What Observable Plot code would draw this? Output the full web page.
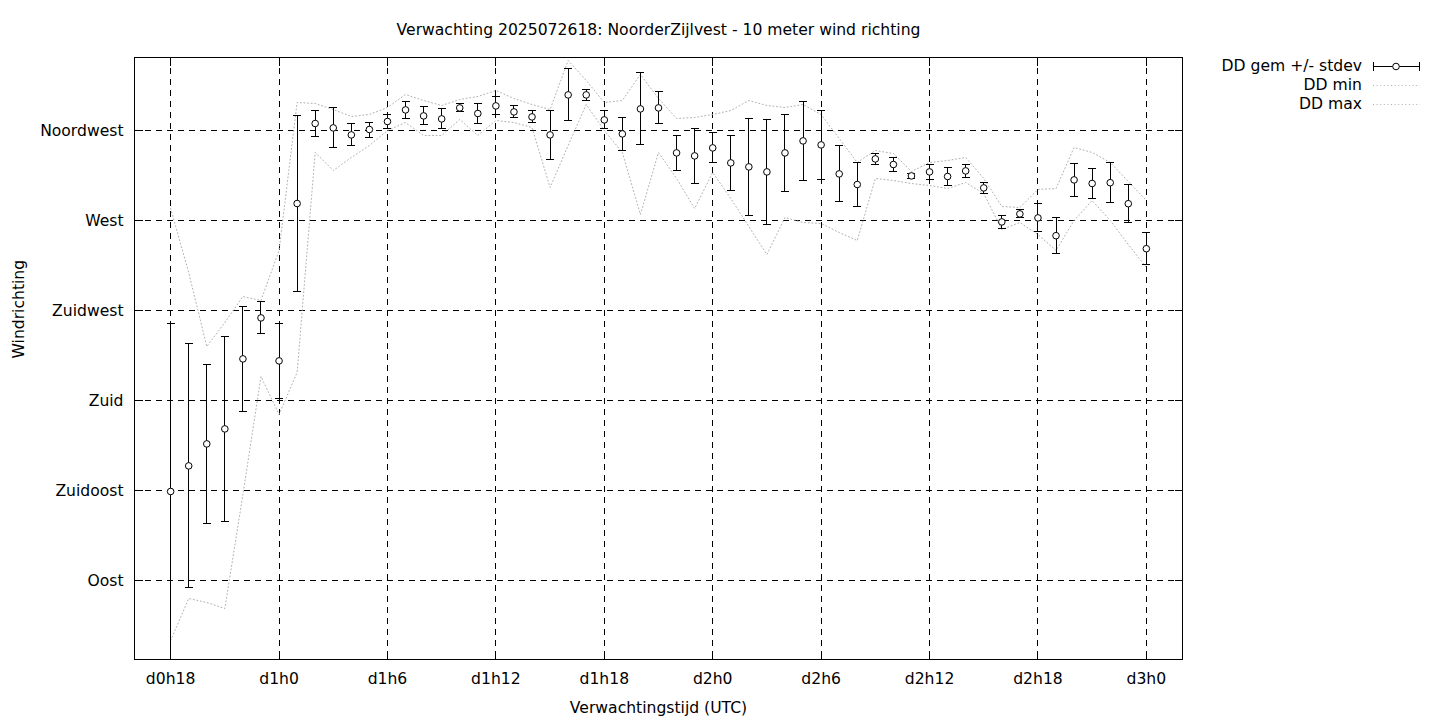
<!DOCTYPE html>
<html>
<head>
<meta charset="utf-8">
<script src="https://cdn.jsdelivr.net/npm/d3@7"></script>
<script src="https://cdn.jsdelivr.net/npm/@observablehq/plot@0.6"></script>
<style>
  body { margin: 0; background: #fff; }
  #chart { position: relative; width: 1440px; height: 720px; }
  svg { font-family: "DejaVu Sans", sans-serif; }
</style>
</head>
<body>
<div id="chart"></div>
<script>
// ---- data (hours since forecast start, d0h0 = 0) ----
const hours = [18,19,20,21,22,23,24,25,26,27,28,29,30,31,32,33,34,35,36,37,38,39,40,41,42,43,44,45,
  46,47,48,49,50,51,52,53,54,55,56,57,58,59,60,61,62,63,64,65,66,67,68,69,70,71,72];
const ddMean = [134.5,147.3,158.3,165.8,200.8,221.3,199.8,278.5,318.5,316.3,312.8,315.5,319.5,325.3,322.3,320.8,
  326.3,323.5,327.3,324.3,321.8,312.8,332.8,332.8,320.3,313.3,325.8,326.3,303.8,302.3,306.3,298.8,296.8,294.3,
  303.8,309.8,307.8,293.3,288,300.8,298,292.3,294.3,292,294.8,286.3,269.3,273.3,271.3,262.4,290.3,288.5,288.9,278.4,255.9];
const ddStdev = [84,61,39.7,46.3,26.2,8,18.9,43.8,6.5,10,5.5,3.75,3.5,4.3,4.5,5,
  2,5,4.5,3,3,12.3,13,2.8,4.5,8.2,18,8,8.9,13.8,7.5,13.9,24.4,26.4,
  19.4,19.9,17.3,14,10.8,2.9,3.5,1.1,3.8,4.5,3.3,2.8,3.4,2,7,8.9,8.4,7.4,9.9,9.4,8];
const ddMin = [60,81,79,76,133,192,173,194,304,295,301.5,307.5,315,319,312.5,312.5,
  320.5,312.5,320,319,316.5,286.5,307.5,328,315,304,273,304,291,276,294,281,267,253,
  271.5,269,268.5,264,260,291,290,288.5,287.5,286,289,283.5,265.5,269,263,255,270,280,270,258,246.5];
const ddMax = [276,244,207,219,232,230,255,329,328.5,325.5,322,323,326.5,333,330,327.5,
  330.5,332,335,331,328,325.5,350,340,329,330,343,331,321,321.5,323,325,330,327.5,
  326.5,328,323,311,299,305,303.5,294.5,299,300,301.5,291,277,276.5,285.5,286,306.5,304,299,289.5,280];

const dirTicks = [90, 135, 180, 225, 270, 315];
const dirLabels = ["Oost", "Zuidoost", "Zuid", "Zuidwest", "West", "Noordwest"];
const timeTicks = [18, 24, 30, 36, 42, 48, 54, 60, 66, 72];
const timeLabels = ["d0h18", "d1h0", "d1h6", "d1h12", "d1h18", "d2h0", "d2h6", "d2h12", "d2h18", "d3h0"];
const titleText = "Verwachting 2025072618: NoorderZijlvest - 10 meter wind richting";
const xTitle = "Verwachtingstijd (UTC)";
const yTitle = "Windrichting";
const legendLabels = ["DD gem +/- stdev", "DD min", "DD max"];

const rows = hours.map((h, i) => ({
  h, mean: ddMean[i], lo: ddMean[i] - ddStdev[i], hi: ddMean[i] + ddStdev[i],
  min: ddMin[i], max: ddMax[i]
}));

// ---- custom symbols ----
const rad = size => Math.sqrt(size / Math.PI);
const capSym = { draw(ctx, size) { const r = rad(size); ctx.moveTo(-r, 0); ctx.lineTo(r, 0); } };
const tickRight = { draw(ctx, size) { const r = rad(size); ctx.moveTo(0, 0); ctx.lineTo(2 * r, 0); } };
const tickLeft = { draw(ctx, size) { const r = rad(size); ctx.moveTo(0, 0); ctx.lineTo(-2 * r, 0); } };
const tickUp = { draw(ctx, size) { const r = rad(size); ctx.moveTo(0, 0); ctx.lineTo(0, -2 * r); } };
const tickDown = { draw(ctx, size) { const r = rad(size); ctx.moveTo(0, 0); ctx.lineTo(0, 2 * r); } };

const FS = 15.6;
const dotted = { stroke: "#b0b0b0", strokeWidth: 1, strokeDasharray: "1,2.6" };
const crisp = { shapeRendering: "crispEdges" };

const plot = Plot.plot({
  width: 1440,
  height: 720,
  marginLeft: 134,
  marginRight: 258,
  marginTop: 57,
  marginBottom: 61,
  style: { fontFamily: "DejaVu Sans, sans-serif", fontSize: FS + "px", background: "#fff", color: "#000" },
  x: { domain: [16, 74], axis: null },
  y: { domain: [50.5, 351.5], axis: null },
  marks: [
    Plot.gridX(timeTicks, { stroke: "#000", strokeOpacity: 1, strokeWidth: 1, strokeDasharray: "6,5", ...crisp }),
    Plot.gridY(dirTicks, { stroke: "#000", strokeOpacity: 1, strokeWidth: 1, strokeDasharray: "6,5", ...crisp }),
    Plot.line(rows, { x: "h", y: "min", ...dotted }),
    Plot.line(rows, { x: "h", y: "max", ...dotted }),
    Plot.ruleX(rows, { x: "h", y1: "lo", y2: "hi", stroke: "#000", strokeWidth: 1, clip: true, ...crisp }),
    Plot.dot(rows, { x: "h", y: "hi", symbol: capSym, r: 4, stroke: "#000", fill: "none", strokeWidth: 1, ...crisp }),
    Plot.dot(rows.filter(d => d.lo > 50.5), { x: "h", y: "lo", symbol: capSym, r: 4, stroke: "#000", fill: "none", strokeWidth: 1, ...crisp }),
    Plot.dot(rows, { x: "h", y: "mean", r: 3.3, fill: "#fff", stroke: "#000", strokeWidth: 1 }),
    // inward ticks (with mirror)
    Plot.dot(dirTicks, { y: d => d, frameAnchor: "left", symbol: tickRight, r: 4, stroke: "#000", fill: "none", strokeWidth: 1, ...crisp }),
    Plot.dot(dirTicks, { y: d => d, frameAnchor: "right", symbol: tickLeft, r: 4, stroke: "#000", fill: "none", strokeWidth: 1, ...crisp }),
    Plot.dot(timeTicks, { x: d => d, frameAnchor: "bottom", symbol: tickUp, r: 4, stroke: "#000", fill: "none", strokeWidth: 1, ...crisp }),
    Plot.dot(timeTicks, { x: d => d, frameAnchor: "top", symbol: tickDown, r: 4, stroke: "#000", fill: "none", strokeWidth: 1, ...crisp }),
    Plot.frame({ stroke: "#000", strokeWidth: 1, ...crisp }),
    // tick labels
    Plot.text(dirTicks, { y: d => d, text: (d, i) => dirLabels[i], frameAnchor: "left", dx: -11, textAnchor: "end", lineAnchor: "middle", fontSize: FS, fill: "#000" }),
    Plot.text(timeTicks, { x: d => d, text: (d, i) => timeLabels[i], frameAnchor: "bottom", dy: 19, lineAnchor: "middle", fontSize: FS, fill: "#000" }),
    // titles
    Plot.text([titleText], { text: d => d, frameAnchor: "top", dy: -28, lineAnchor: "middle", fontSize: FS, fill: "#000" }),
    Plot.text([xTitle], { text: d => d, frameAnchor: "bottom", dy: 48, lineAnchor: "middle", fontSize: FS, fill: "#000" }),
    Plot.text([yTitle], { text: d => d, frameAnchor: "left", dx: -116, rotate: -90, lineAnchor: "middle", fontSize: FS, fill: "#000" })
  ]
});

document.getElementById("chart").appendChild(plot);

// ---- legend (top right, outside the frame) ----
const svg = d3.select(plot);
const lg = svg.append("g").attr("font-family", "DejaVu Sans, sans-serif").attr("font-size", FS);
legendLabels.forEach((lab, i) => {
  const y = 66 + i * 19;
  lg.append("text").attr("x", 1362).attr("y", y).attr("dy", "0.35em")
    .attr("text-anchor", "end").attr("fill", "#000").text(lab);
  if (i === 0) {
    lg.append("line").attr("x1", 1373).attr("x2", 1420).attr("y1", y + 0.5).attr("y2", y + 0.5).attr("stroke", "#000");
    lg.append("line").attr("x1", 1373.5).attr("x2", 1373.5).attr("y1", y - 4).attr("y2", y + 5).attr("stroke", "#000");
    lg.append("line").attr("x1", 1419.5).attr("x2", 1419.5).attr("y1", y - 4).attr("y2", y + 5).attr("stroke", "#000");
    lg.append("circle").attr("cx", 1396).attr("cy", y + 0.5).attr("r", 3.3).attr("fill", "#fff").attr("stroke", "#000");
  } else {
    lg.append("line").attr("x1", 1373).attr("x2", 1420).attr("y1", y + 0.5).attr("y2", y + 0.5)
      .attr("stroke", dotted.stroke).attr("stroke-dasharray", dotted.strokeDasharray);
  }
});
</script>
</body>
</html>
